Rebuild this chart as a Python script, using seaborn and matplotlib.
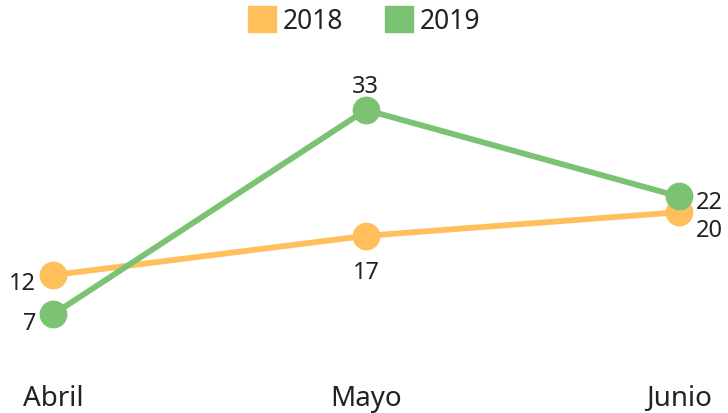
import matplotlib
matplotlib.use('Agg')
import matplotlib.pyplot as plt
import matplotlib.patches as mpatches
import seaborn as sns
import pandas as pd

months = ['Abril', 'Mayo', 'Junio']
years = ['2018', '2019']
values_2018 = [12, 17, 20]
values_2019 = [7, 33, 22]
colors = {'2018': '#FFBF5A', '2019': '#7BC272'}

df = pd.DataFrame({
    'month': months * 2,
    'x': list(range(len(months))) * 2,
    'year': ['2018'] * 3 + ['2019'] * 3,
    'value': values_2018 + values_2019,
})

sns.set_style('white')
plt.rcParams['font.family'] = ['Noto Sans', 'DejaVu Sans']

fig = plt.figure(figsize=(7.28, 4.14), dpi=100)
ax = fig.add_axes([0, 0, 1, 1])

sns.lineplot(data=df, x='x', y='value', hue='year', palette=colors,
             marker='o', markersize=20, markeredgewidth=0, linewidth=4.2,
             ax=ax, legend=False, sort=False)

ax.set_xlim(-0.169, 2.157)
ax.set_ylim(-5.52, 47.1)
ax.axis('off')

txt = '#222222'
# data labels (offsets in points)
offsets_2018 = [(-12, -6, 'right'), (0, -26, 'center'), (12, -13, 'left')]
offsets_2019 = [(-12, -6, 'right'), (0, 17, 'center'), (12, -4, 'left')]
for vals, offs in [(values_2018, offsets_2018), (values_2019, offsets_2019)]:
    for i, (v, (dx, dy, ha)) in enumerate(zip(vals, offs)):
        ax.annotate(str(v), (i, v), xytext=(dx, dy), textcoords='offset points',
                    ha=ha, va='center', fontsize=17, color=txt)

# category labels
for i, m in enumerate(months):
    ax.text(i, -3.6, m, ha='center', va='center', fontsize=20, color=txt)

handles = [mpatches.Patch(color=colors[y], label=y) for y in years]
fig.legend(handles=handles, loc='upper center', bbox_to_anchor=(0.5, 1.04), ncol=2,
           frameon=False, fontsize=19, handlelength=1.05, handleheight=1.1,
           handletextpad=0.25, columnspacing=1.6, labelcolor=txt)

fig.savefig('out.png', dpi=100)
